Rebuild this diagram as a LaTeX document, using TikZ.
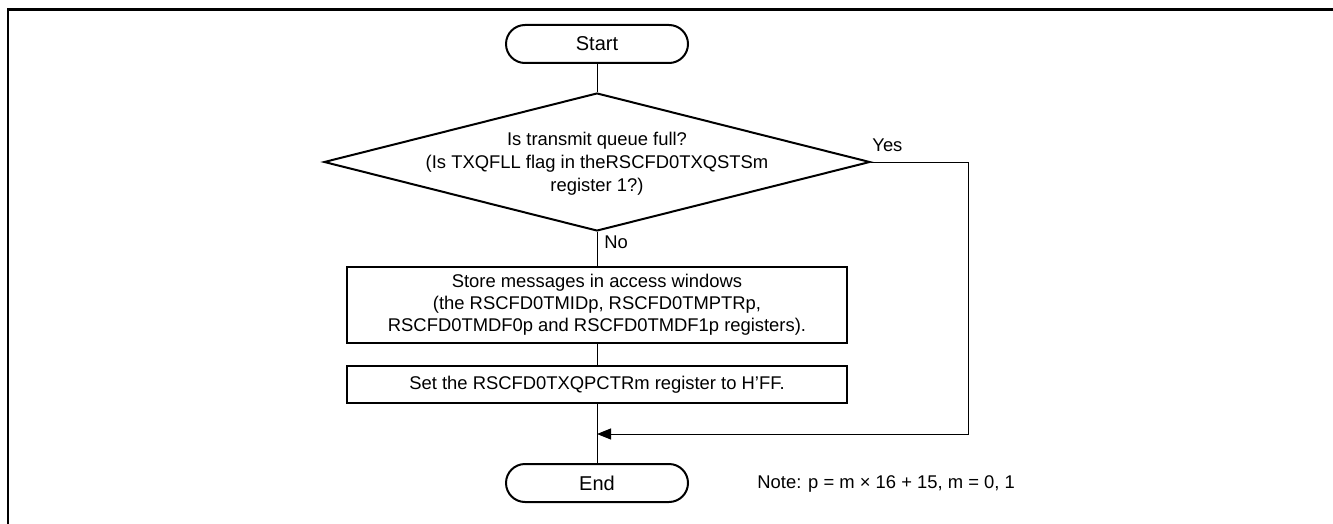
\documentclass[tikz,border=0pt]{standalone}
\usepackage{fontspec}
\setmainfont{Liberation Sans}
\usetikzlibrary{shapes.geometric,arrows.meta}
\begin{document}
\begin{tikzpicture}[x=0.5pt,y=-0.5pt,
  txt/.style={font=\fontsize{9.2pt}{11pt}\selectfont},
  termtxt/.style={font=\fontsize{10pt}{11.5pt}\selectfont},
  term/.style={termtxt, draw, line width=1pt, rounded corners=9.5pt, minimum width=91pt, minimum height=19pt, inner sep=0pt},
  procbox/.style={txt, draw, line width=1pt, align=center, inner sep=0pt, minimum width=250pt},
  decision/.style={draw, line width=1pt, diamond, inner sep=0pt, minimum width=273pt, minimum height=69pt},
  conn/.style={line width=0.5pt},
  arr/.style={conn, -{Triangle[length=7pt,width=5.5pt]}},
  lbl/.style={txt, inner sep=0pt}
]
\useasboundingbox (0,0) rectangle (1333,524);
\draw[line width=1.3pt] (1340,9.7) -- (7.8,9.7) -- (7.8,530);

\node[term] (start) at (597,44) {Start};
\node[decision] (dec) at (597,162) {};
\node[txt, font=\fontsize{9.2pt}{11.5pt}\selectfont, align=center, inner sep=0pt] (dectext) at (597,163.5) {Is transmit queue full?\\(Is TXQFLL flag in theRSCFD0TXQSTSm\\register 1?)};
\node[procbox, minimum height=38pt] (box1) at (597,305) {Store messages in access windows\\(the RSCFD0TMIDp, RSCFD0TMPTRp,\\RSCFD0TMDF0p and RSCFD0TMDF1p registers).};
\node[procbox, minimum height=18.5pt] (box2) at (597,384.5) {Set the RSCFD0TXQPCTRm register to H\textquoteright FF.};
\node[term] (end) at (597,483) {End};

\coordinate (rc) at (968,162);
\coordinate (merge) at (597,434);

\node[lbl, anchor=west] (yes) at (872,145) {Yes};
\node[lbl, anchor=west] (no) at (604,242) {No};
\node[lbl, anchor=west] (note) at (757,484) {Note: p = m \texttimes\ 16 + 15, m = 0, 1};

\draw[conn] (start) -- (dec);
\draw[conn] (dec.south) -- (box1.north);
\draw[conn] (box1.south) -- (box2.north);
\draw[conn] (box2.south) -- (end.north);
\draw[arr] (dec.east) -- (rc) |- (merge);
\end{tikzpicture}
\end{document}
